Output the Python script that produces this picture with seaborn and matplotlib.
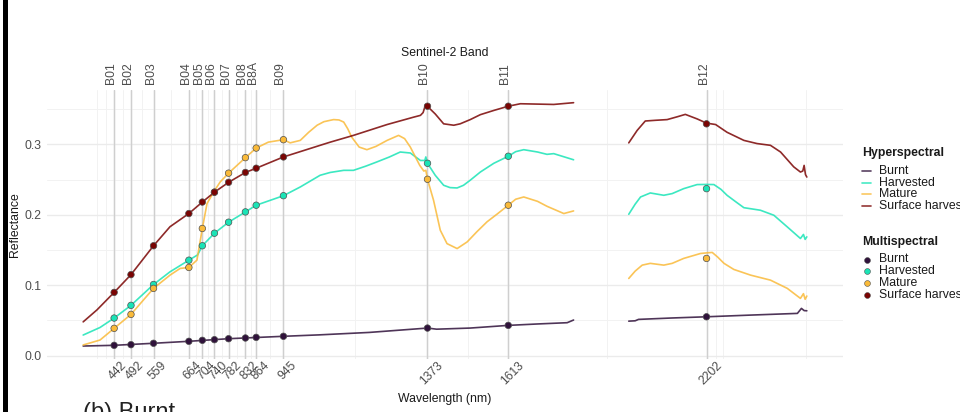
import numpy as np
import pandas as pd
import matplotlib
matplotlib.use("Agg")
import matplotlib.pyplot as plt
import seaborn as sns
from matplotlib.lines import Line2D
from matplotlib.patches import Rectangle
from matplotlib.transforms import ScaledTranslation

# ---------------- data ----------------
covers = ["Burnt", "Harvested", "Mature", "Surface harvested"]
band_names = ["B01", "B02", "B03", "B04", "B05", "B06", "B07", "B08", "B8A", "B09", "B10", "B11", "B12"]
band_nm = [442, 492, 559, 664, 704, 740, 782, 832, 864, 945, 1373, 1613, 2202]

# multispectral (Sentinel-2 band) reflectance
ms_burnt = [0.0147, 0.0156, 0.0176, 0.0204, 0.0218, 0.0227, 0.0241, 0.0251, 0.0260, 0.0275, 0.0392, 0.0430, 0.0552]
ms_harvested = [0.0534, 0.0714, 0.1010, 0.1355, 0.1560, 0.1738, 0.1894, 0.2040, 0.2135, 0.2270, 0.2730, 0.2830, 0.2370]
ms_mature = [0.0388, 0.0586, 0.0955, 0.1252, 0.1805, 0.2320, 0.2590, 0.2810, 0.2946, 0.3065, 0.2503, 0.2135, 0.1380]
ms_surface = [0.0898, 0.1150, 0.1560, 0.2017, 0.2180, 0.2320, 0.2460, 0.2600, 0.2660, 0.2820, 0.3540, 0.3540, 0.3290]

# hyperspectral reflectance (wavelength nm, reflectance)
hs_burnt_nm = [350, 442, 559, 664, 782, 945, 1050, 1200, 1373, 1400, 1500, 1613, 1700, 1788, 1807,
               1971, 1990, 2000, 2100, 2202, 2333, 2472, 2484, 2492, 2500]
hs_burnt = [0.0137, 0.0147, 0.0176, 0.0204, 0.0241, 0.0275, 0.0295, 0.0330, 0.0392, 0.0376, 0.0392, 0.0430, 0.0450, 0.0468, 0.0506,
            0.0490, 0.0495, 0.0515, 0.0535, 0.0552, 0.0576, 0.0600, 0.0671, 0.0640, 0.0637]

hs_harvested_nm = [350, 400, 442, 492, 559, 608, 664, 690, 704, 740, 782, 832, 864, 945, 995, 1054, 1084, 1124, 1153,
                   1190, 1223, 1260, 1292, 1322, 1352, 1365, 1368, 1373, 1396, 1421, 1440, 1461, 1480, 1500, 1530, 1570, 1613, 1635, 1659, 1700, 1728, 1748, 1807,
                   1971, 1990, 2006, 2035, 2075, 2100, 2134, 2174, 2202, 2224, 2245, 2263, 2290, 2313, 2362, 2402, 2442, 2481, 2490, 2495, 2500]
hs_harvested = [0.0293, 0.0400, 0.0534, 0.0714, 0.1010, 0.1190, 0.1355, 0.1430, 0.1560, 0.1738, 0.1894, 0.2040, 0.2135, 0.2270, 0.2394, 0.2560, 0.2600, 0.2630, 0.2630,
                0.2690, 0.2750, 0.2820, 0.2890, 0.2876, 0.2770, 0.2770, 0.2820, 0.2730, 0.2560, 0.2418, 0.2385, 0.2380, 0.2418, 0.2490, 0.2606, 0.2730, 0.2830, 0.2895, 0.2923, 0.2890, 0.2857, 0.2867, 0.2780,
                0.2007, 0.2150, 0.2252, 0.2309, 0.2276, 0.2300, 0.2370, 0.2428, 0.2430, 0.2428, 0.2360, 0.2276, 0.2180, 0.2100, 0.2064, 0.1993, 0.1827, 0.1663, 0.1720, 0.1650, 0.1686]

hs_mature_nm = [350, 400, 442, 492, 529, 559, 608, 638, 664, 688, 704, 718, 740, 757, 782, 807, 832, 864, 900, 945, 965, 995,
                1020, 1045, 1065, 1084, 1094, 1110, 1124, 1136, 1148, 1170, 1193, 1220, 1253, 1287, 1305, 1322, 1350, 1357, 1362, 1368, 1373, 1391, 1411,
                1431, 1461, 1491, 1520, 1550, 1580, 1613, 1635, 1659, 1700, 1728, 1778, 1807,
                1971, 1990, 2011, 2035, 2075, 2100, 2134, 2184, 2205, 2219, 2235, 2254, 2283, 2333, 2392, 2442, 2481, 2490, 2495, 2500]
hs_mature = [0.0152, 0.0222, 0.0388, 0.0586, 0.0790, 0.0955, 0.1143, 0.1238, 0.1252, 0.1356, 0.1805, 0.2160, 0.2340, 0.2465, 0.2590, 0.2700, 0.2810, 0.2946, 0.3030, 0.3065, 0.3020, 0.3055,
             0.3170, 0.3270, 0.3320, 0.3340, 0.3350, 0.3345, 0.3315, 0.3220, 0.3100, 0.2960, 0.2923, 0.2970, 0.3055, 0.3126, 0.3080, 0.2960, 0.2700, 0.2654, 0.2620, 0.2630, 0.2503, 0.2205, 0.1780,
             0.1590, 0.1520, 0.1615, 0.1760, 0.1900, 0.2010, 0.2135, 0.2220, 0.2252, 0.2190, 0.2120, 0.2017, 0.2054,
             0.1096, 0.1200, 0.1285, 0.1310, 0.1285, 0.1310, 0.1380, 0.1450, 0.1460, 0.1465, 0.1400, 0.1310, 0.1224, 0.1143, 0.1072, 0.0955, 0.0813, 0.0880, 0.0800, 0.0846]

hs_surface_nm = [350, 391, 442, 492, 559, 608, 664, 704, 740, 782, 832, 864, 945, 1054, 1084, 1153, 1253, 1332, 1352, 1360,
                 1367, 1373, 1381, 1396, 1421, 1451, 1470, 1500, 1530, 1570, 1613, 1649, 1748, 1807,
                 1971, 1996, 2020, 2050, 2085, 2115, 2139, 2174, 2202, 2229, 2263, 2313, 2352, 2392, 2422, 2461, 2481, 2488, 2492, 2496, 2500]
hs_surface = [0.0480, 0.0650, 0.0898, 0.1150, 0.1560, 0.1830, 0.2017, 0.2180, 0.2320, 0.2460, 0.2600, 0.2660, 0.2820, 0.2985, 0.3030, 0.3126, 0.3280, 0.3385, 0.3410, 0.3450,
              0.3560, 0.3540, 0.3500, 0.3430, 0.3290, 0.3270, 0.3290, 0.3350, 0.3420, 0.3480, 0.3540, 0.3575, 0.3565, 0.3590,
              0.3020, 0.3197, 0.3330, 0.3340, 0.3350, 0.3390, 0.3424, 0.3360, 0.3300, 0.3280, 0.3170, 0.3055, 0.3010, 0.2985, 0.2890, 0.2680, 0.2606, 0.2620, 0.2700, 0.2570, 0.2535]

gap_split = 1900  # water-absorption gap in the hyperspectral record

# ---------------- tables ----------------
rows = []
for cov, nms, vals in zip(covers, [hs_burnt_nm, hs_harvested_nm, hs_mature_nm, hs_surface_nm],
                          [hs_burnt, hs_harvested, hs_mature, hs_surface]):
    for n, v in zip(nms, vals):
        rows.append({"cover": cov, "nm": n, "refl": v,
                     "segment": cov + ("_a" if n < gap_split else "_b")})
hyper = pd.DataFrame(rows)

mrows = []
for cov, vals in zip(covers, [ms_burnt, ms_harvested, ms_mature, ms_surface]):
    for n, v in zip(band_nm, vals):
        mrows.append({"cover": cov, "nm": n, "refl": v})
multi = pd.DataFrame(mrows)

palette = {"Burnt": "#30123B", "Harvested": "#1AE4B6", "Mature": "#FABA39", "Surface harvested": "#7A0403"}

# ---------------- figure ----------------
sns.set_theme(style="white")
plt.rcParams["font.family"] = ["Liberation Sans", "DejaVu Sans"]

W, H = 960, 412
fig = plt.figure(figsize=(W / 100, H / 100), dpi=100)
ax_l, ax_r, ax_t, ax_b = 47, 843, 90, 358.5
ax = fig.add_axes([ax_l / W, 1 - ax_b / H, (ax_r - ax_l) / W, (ax_b - ax_t) / H])

ax.set_xlim(242.5, 2607.5)
ax.set_ylim(-0.004, 0.377)

# grid
minor_x = list((np.array(band_nm[:-1]) + np.array(band_nm[1:])) / 2) + [392, 417, 2229, 2252, 2496.5]
ax.set_xticks(band_nm)
ax.set_xticks(minor_x, minor=True)
ax.set_yticks([0.0, 0.1, 0.2, 0.3])
ax.set_yticks([0.05, 0.15, 0.25, 0.35], minor=True)
ax.set_yticklabels(["0.0", "0.1", "0.2", "0.3"])
ax.set_xticklabels([str(b) for b in band_nm])
ax.grid(which="major", color="#EBEBEB", lw=1.0)
ax.grid(which="minor", color="#F2F2F2", lw=0.7)
ax.set_axisbelow(True)
for s in ax.spines.values():
    s.set_visible(False)

for b in band_nm:
    ax.axvline(b, color="#CFCFCF", lw=1.0, zorder=1)

sns.lineplot(data=hyper, x="nm", y="refl", hue="cover", units="segment", estimator=None, sort=False,
             palette=palette, hue_order=covers, lw=1.2, alpha=0.85, legend=False, ax=ax, zorder=3)
sns.scatterplot(data=multi, x="nm", y="refl", hue="cover", palette=palette, hue_order=covers,
                s=22, edgecolor="#505050", linewidth=0.5, legend=False, ax=ax, zorder=5)

ax.tick_params(axis="x", which="both", length=0, pad=0.5, labelsize=8.8, labelcolor="#4D4D4D")
ax.tick_params(axis="y", which="both", length=0, pad=3.8, labelsize=8.8, labelcolor="#4D4D4D")
for lab in ax.get_xticklabels():
    lab.set_rotation(45)
    lab.set_ha("center")
    lab.set_transform(lab.get_transform() + ScaledTranslation(4 / 100, 0, fig.dpi_scale_trans))

ax.set_xlabel("Wavelength (nm)", fontsize=8.8, color="#1A1A1A")
ax.xaxis.label.set_va("center")
ax.xaxis.set_label_coords(0.5, (ax_b - 399) / (ax_b - ax_t))
ax.set_ylabel("Reflectance", fontsize=8.8, color="#1A1A1A")
ax.yaxis.label.set_va("center")
ax.yaxis.set_label_coords((14.7 - ax_l) / (ax_r - ax_l), 0.5)

# secondary (band) axis on top
sec = ax.secondary_xaxis("top")
sec.set_xticks(band_nm)
sec.set_xticklabels(band_names)
sec.tick_params(axis="x", length=0, pad=4.5, labelsize=8.8, labelcolor="#4D4D4D")
for lab in sec.get_xticklabels():
    lab.set_rotation(90)
    lab.set_transform(lab.get_transform() + ScaledTranslation(-3 / 100, 0, fig.dpi_scale_trans))
for s in sec.spines.values():
    s.set_visible(False)


def fx(px):
    return px / W


def fy(py):
    return 1 - py / H


fig.text(fx((ax_l + ax_r) / 2), fy(53), "Sentinel-2 Band", fontsize=8.8, color="#1A1A1A", ha="center", va="center")

# ---------------- legends (drawn in figure pixels) ----------------
fig.text(fx(861.7), fy(153.3), "Hyperspectral", fontsize=8.8, fontweight="bold", va="center", ha="left", color="#1A1A1A")
for i, cov in enumerate(covers):
    yy = 170.7 + i * 11.8
    fig.add_artist(Line2D([fx(862), fx(871)], [fy(yy), fy(yy)], color=palette[cov], lw=1.2, alpha=0.8))
    fig.text(fx(879), fy(yy), cov, fontsize=8.8, va="center", ha="left", color="#1A1A1A")

fig.text(fx(861.7), fy(242.0), "Multispectral", fontsize=8.8, fontweight="bold", va="center", ha="left", color="#1A1A1A")
for i, cov in enumerate(covers):
    yy = 259.5 + i * 11.8
    fig.add_artist(Line2D([fx(866.5)], [fy(yy)], marker="o", markersize=4.2, markerfacecolor=palette[cov],
                          markeredgecolor="#505050", markeredgewidth=0.4, lw=0))
    fig.text(fx(879), fy(yy), cov, fontsize=8.8, va="center", ha="left", color="#1A1A1A")

# ---------------- page decorations (cropped screenshot) ----------------
fig.add_artist(Rectangle((fx(3), 0), fx(4.5), 1, transform=fig.transFigure, color="black", lw=0))
fig.text(fx(83), fy(418.6), "(b) Burnt", fontsize=17, va="baseline", ha="left", color="#222222")

fig.savefig("out.png", dpi=100)
